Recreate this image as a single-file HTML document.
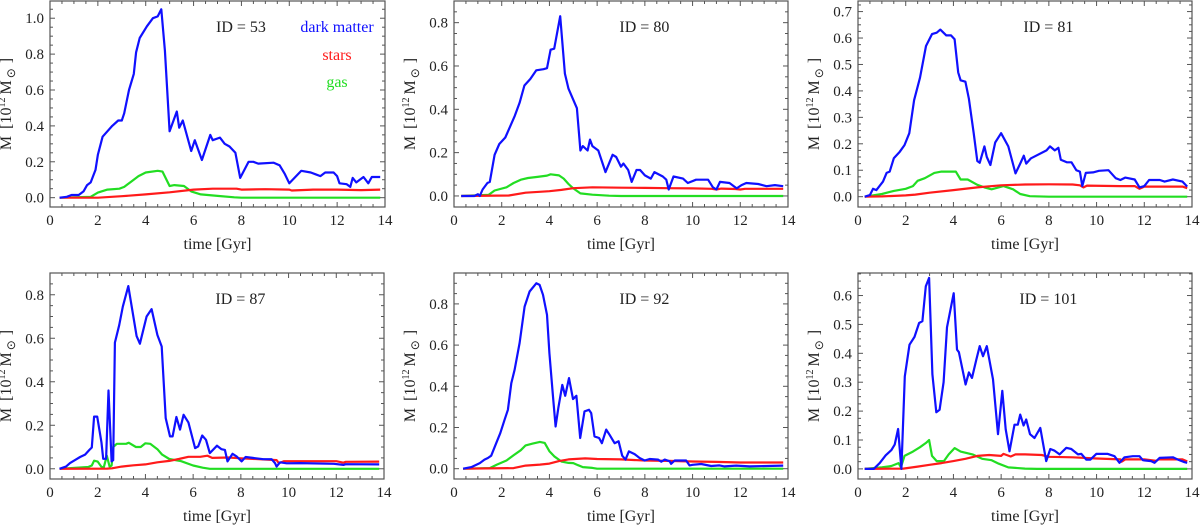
<!DOCTYPE html>
<html><head><meta charset="utf-8"><style>
html,body{margin:0;padding:0;background:#fff}
svg{display:block}
svg text{font-family:"Liberation Serif","Times New Roman",serif}
</style></head><body>
<svg id="fig" width="1200" height="526" viewBox="0 0 1200 526" xmlns="http://www.w3.org/2000/svg" font-family="Liberation Serif, serif"></svg>
<script>
// ---- data (time in Gyr, mass in 1e12 Msun) ----
const panelIds = ["53","80","81","87","92","101"];
const dm53 = [[0.4,0],[0.7,0.005],[0.9,0.015],[1.2,0.015],[1.4,0.035],[1.55,0.07],[1.7,0.085],[1.9,0.155],[2.0,0.24],[2.2,0.34],[2.6,0.4],[2.85,0.43],[3.0,0.43],[3.1,0.47],[3.3,0.6],[3.5,0.69],[3.6,0.81],[3.75,0.89],[4.05,0.955],[4.3,1.0],[4.5,1.01],[4.65,1.05],[4.8,0.82],[5.0,0.37],[5.3,0.48],[5.4,0.39],[5.55,0.43],[5.9,0.26],[6.05,0.32],[6.35,0.21],[6.7,0.35],[6.8,0.32],[7.1,0.335],[7.3,0.3],[7.5,0.285],[7.75,0.25],[7.95,0.11],[8.3,0.2],[8.5,0.2],[8.7,0.19],[9.35,0.195],[9.6,0.18],[9.8,0.135],[10.0,0.08],[10.5,0.15],[10.9,0.14],[11.1,0.13],[11.3,0.12],[11.5,0.14],[11.85,0.14],[12.0,0.12],[12.1,0.08],[12.4,0.075],[12.55,0.06],[12.65,0.11],[12.8,0.085],[13.1,0.115],[13.3,0.08],[13.45,0.115],[13.8,0.115]];
const st53 = [[0.4,0],[2,0],[3,0.008],[4,0.018],[5,0.03],[6,0.045],[6.8,0.05],[7.8,0.05],[8,0.045],[9,0.047],[10,0.045],[10.1,0.04],[11,0.045],[12,0.045],[13,0.042],[13.8,0.045]];
const gas53 = [[0.4,0],[1.7,0.005],[2,0.028],[2.4,0.045],[2.9,0.05],[3.1,0.06],[3.4,0.09],[3.7,0.12],[4.0,0.14],[4.5,0.15],[4.7,0.145],[5.0,0.065],[5.2,0.07],[5.6,0.065],[5.9,0.035],[6.3,0.018],[7,0.01],[7.7,0.002],[8,0],[13.8,0]];
const dm80 = [[0.3,0],[0.85,0],[1.0,0.008],[1.08,0],[1.2,0.03],[1.4,0.06],[1.5,0.065],[1.7,0.19],[1.9,0.24],[2.15,0.27],[2.35,0.32],[2.55,0.37],[2.75,0.43],[2.95,0.51],[3.2,0.54],[3.45,0.58],[3.75,0.585],[3.9,0.59],[4.05,0.675],[4.2,0.68],[4.45,0.83],[4.65,0.565],[4.8,0.495],[5.15,0.405],[5.3,0.21],[5.4,0.23],[5.6,0.21],[5.7,0.26],[5.8,0.23],[6.05,0.21],[6.35,0.11],[6.65,0.19],[6.8,0.18],[7.0,0.135],[7.1,0.15],[7.3,0.12],[7.45,0.065],[7.65,0.12],[7.8,0.12],[8.0,0.095],[8.25,0.08],[8.4,0.11],[8.75,0.09],[8.9,0.075],[9.0,0.03],[9.2,0.09],[9.6,0.08],[9.8,0.06],[10.15,0.075],[10.65,0.075],[10.85,0.04],[11.0,0.03],[11.15,0.065],[11.55,0.06],[11.85,0.035],[12.05,0.05],[12.25,0.06],[12.75,0.055],[13.1,0.045],[13.45,0.05],[13.8,0.045]];
const st80 = [[0.3,0],[2.3,0.002],[3,0.015],[4,0.022],[4.5,0.028],[5,0.036],[5.8,0.04],[7,0.038],[8,0.037],[9,0.036],[10,0.035],[10.8,0.033],[11,0.03],[11.2,0.034],[11.8,0.032],[12,0.03],[12.2,0.033],[13.8,0.033]];
const gas80 = [[0.3,0],[1.45,0.005],[1.7,0.025],[2.2,0.04],[2.5,0.06],[2.8,0.075],[3.1,0.083],[3.5,0.088],[3.9,0.094],[4.05,0.1],[4.4,0.095],[4.6,0.08],[4.8,0.055],[5.0,0.035],[5.3,0.012],[5.8,0.006],[6.5,0.001],[7,0],[13.8,0]];
const dm81 = [[0.28,0],[0.5,0.006],[0.63,0.03],[0.77,0.025],[1.05,0.057],[1.2,0.09],[1.33,0.095],[1.5,0.145],[1.75,0.17],[1.95,0.195],[2.15,0.24],[2.35,0.365],[2.6,0.45],[2.85,0.57],[3.1,0.615],[3.3,0.62],[3.45,0.632],[3.7,0.61],[3.9,0.61],[4.05,0.595],[4.2,0.47],[4.3,0.44],[4.5,0.435],[4.65,0.37],[4.85,0.24],[5.0,0.135],[5.1,0.128],[5.3,0.19],[5.4,0.15],[5.55,0.12],[5.75,0.205],[6.0,0.24],[6.3,0.19],[6.6,0.088],[6.8,0.125],[6.95,0.155],[7.05,0.125],[7.25,0.145],[7.9,0.175],[8.05,0.19],[8.25,0.175],[8.4,0.185],[8.5,0.14],[8.75,0.13],[8.95,0.13],[9.15,0.1],[9.3,0.095],[9.4,0.04],[9.55,0.09],[9.85,0.092],[10.1,0.098],[10.5,0.1],[10.8,0.07],[11.0,0.063],[11.2,0.072],[11.6,0.065],[11.8,0.035],[12.0,0.04],[12.2,0.063],[12.65,0.063],[12.85,0.057],[13.2,0.065],[13.6,0.057],[13.8,0.038]];
const st81 = [[0.28,0],[1,0.001],[2,0.005],[2.4,0.008],[3,0.015],[4,0.025],[5,0.035],[6,0.043],[7,0.046],[8,0.047],[9,0.046],[9.3,0.043],[9.45,0.035],[9.6,0.042],[11,0.04],[11.6,0.04],[11.8,0.03],[12,0.038],[13.6,0.038],[13.8,0.032]];
const gas81 = [[0.28,0],[1,0.01],[1.5,0.022],[2,0.03],[2.3,0.04],[2.5,0.06],[2.8,0.07],[3.2,0.09],[3.5,0.095],[3.9,0.095],[4.1,0.095],[4.3,0.065],[4.6,0.065],[5,0.045],[5.3,0.035],[5.6,0.028],[6.1,0.04],[6.5,0.028],[6.8,0.01],[7.2,0.002],[8,0],[13.8,0]];
const dm87 = [[0.4,0],[0.67,0.01],[0.84,0.026],[1.05,0.04],[1.26,0.054],[1.47,0.065],[1.65,0.087],[1.75,0.098],[1.85,0.24],[1.98,0.24],[2.16,0.12],[2.23,0.046],[2.35,0.046],[2.45,0.36],[2.58,0.034],[2.65,0.04],[2.72,0.58],[2.9,0.66],[3.05,0.745],[3.28,0.84],[3.63,0.61],[3.77,0.575],[4.05,0.7],[4.26,0.734],[4.5,0.615],[4.68,0.562],[4.85,0.233],[5.03,0.149],[5.14,0.149],[5.3,0.238],[5.45,0.18],[5.6,0.248],[5.8,0.213],[6.08,0.095],[6.21,0.103],[6.38,0.153],[6.54,0.133],[6.7,0.072],[7.0,0.106],[7.19,0.09],[7.33,0.087],[7.44,0.034],[7.65,0.069],[7.82,0.057],[8.03,0.034],[8.2,0.054],[8.5,0.05],[8.94,0.044],[9.29,0.044],[9.43,0.026],[9.5,0.01],[9.64,0.03],[9.92,0.025],[10.5,0.026],[11.9,0.023],[12.3,0.018],[12.4,0.021],[13.8,0.02]];
const st87 = [[0.4,0],[2.4,0.001],[2.6,0.002],[3,0.01],[3.5,0.016],[4,0.02],[4.5,0.03],[5,0.036],[5.4,0.045],[5.8,0.055],[6.3,0.055],[6.6,0.06],[6.8,0.05],[7.5,0.052],[8,0.048],[9.5,0.04],[9.6,0.025],[9.8,0.035],[12,0.035],[12.3,0.028],[12.4,0.032],[13.8,0.033]];
const gas87 = [[0.4,0],[1.6,0.008],[1.75,0.015],[1.85,0.037],[2.0,0.033],[2.15,0.01],[2.25,0.005],[2.38,0.06],[2.5,0.01],[2.58,0.015],[2.65,0.1],[2.8,0.115],[3.2,0.115],[3.3,0.12],[3.6,0.1],[3.8,0.1],[4.0,0.117],[4.2,0.115],[4.5,0.09],[4.7,0.065],[5.0,0.045],[5.5,0.035],[6,0.015],[6.4,0.005],[6.7,0],[13.8,0]];
const dm92 = [[0.38,0],[0.73,0.008],[1.08,0.027],[1.28,0.044],[1.42,0.052],[1.56,0.063],[1.77,0.124],[1.94,0.173],[2.12,0.238],[2.26,0.286],[2.4,0.415],[2.54,0.48],[2.75,0.61],[2.96,0.787],[3.17,0.86],[3.45,0.9],[3.59,0.892],[3.73,0.844],[3.9,0.747],[4.0,0.561],[4.15,0.35],[4.26,0.205],[4.37,0.294],[4.54,0.407],[4.66,0.354],[4.82,0.44],[4.99,0.338],[5.13,0.354],[5.29,0.149],[5.47,0.278],[5.66,0.286],[5.75,0.27],[5.89,0.157],[6.08,0.149],[6.2,0.124],[6.38,0.19],[6.52,0.165],[6.73,0.124],[6.9,0.133],[7.05,0.063],[7.19,0.044],[7.33,0.084],[7.57,0.071],[7.78,0.052],[7.99,0.04],[8.2,0.047],[8.55,0.044],[8.69,0.034],[8.83,0.044],[9.04,0.036],[9.1,0.024],[9.25,0.04],[9.73,0.04],[9.87,0.016],[10.0,0.019],[10.36,0.023],[10.78,0.013],[11.13,0.016],[11.34,0.011],[11.83,0.015],[12.39,0.011],[13.8,0.015]];
const st92 = [[0.38,0],[2.5,0.003],[3,0.015],[3.6,0.02],[4,0.025],[4.4,0.037],[4.8,0.045],[5.5,0.05],[6,0.047],[7,0.045],[8,0.04],[9,0.038],[10,0.035],[11,0.033],[12,0.03],[13.8,0.03]];
const gas92 = [[0.38,0],[1.5,0.003],[1.8,0.02],[2.2,0.04],[2.5,0.065],[2.8,0.09],[3.0,0.113],[3.3,0.122],[3.6,0.13],[3.8,0.125],[4.0,0.085],[4.2,0.06],[4.5,0.035],[4.8,0.028],[5.0,0.027],[5.2,0.017],[5.4,0.008],[5.8,0.004],[6,0],[13.8,0]];
const dm101 = [[0.28,0],[0.66,0],[0.91,0.02],[1.16,0.047],[1.4,0.065],[1.54,0.084],[1.68,0.138],[1.82,0],[1.96,0.32],[2.16,0.43],[2.37,0.457],[2.56,0.505],[2.7,0.511],[2.84,0.632],[2.98,0.661],[3.12,0.327],[3.28,0.196],[3.42,0.205],[3.59,0.3],[3.73,0.49],[4.01,0.608],[4.15,0.413],[4.23,0.404],[4.51,0.292],[4.65,0.334],[4.78,0.315],[4.96,0.378],[5.1,0.425],[5.24,0.39],[5.4,0.425],[5.66,0.31],[5.87,0.12],[6.05,0.27],[6.19,0.137],[6.35,0.061],[6.56,0.153],[6.7,0.153],[6.8,0.188],[6.94,0.15],[7.05,0.171],[7.21,0.12],[7.4,0.107],[7.64,0.142],[7.89,0.027],[8.06,0.069],[8.24,0.063],[8.45,0.05],[8.73,0.073],[8.94,0.069],[9.22,0.05],[9.36,0.052],[9.57,0.032],[9.74,0.032],[9.99,0.052],[10.47,0.052],[10.75,0.044],[10.96,0.021],[11.17,0.04],[11.52,0.044],[11.8,0.044],[11.94,0.03],[12.29,0.027],[12.43,0.021],[12.64,0.038],[13.2,0.04],[13.41,0.032],[13.69,0.023],[13.8,0.021]];
const st101 = [[0.28,0],[1.9,0.001],[2.5,0.008],[3,0.014],[3.5,0.02],[4,0.027],[4.5,0.035],[5,0.045],[5.5,0.048],[6,0.045],[6.1,0.052],[6.4,0.043],[6.6,0.05],[7,0.05],[7.7,0.048],[8,0.042],[9,0.04],[10,0.036],[11,0.033],[11.05,0.025],[11.2,0.033],[12,0.033],[12.5,0.028],[12.6,0.033],[13.6,0.033],[13.8,0.026]];
const gas101 = [[0.28,0],[1,0.005],[1.4,0.01],[1.7,0.02],[1.8,0.005],[1.95,0.045],[2.3,0.06],[2.6,0.075],[2.85,0.09],[2.98,0.1],[3.1,0.045],[3.3,0.027],[3.6,0.027],[3.8,0.05],[4.05,0.072],[4.3,0.06],[4.8,0.05],[5.2,0.035],[5.6,0.03],[5.9,0.018],[6.3,0.005],[7,0.001],[7.5,0],[13.8,0]];
const xTicks = [0,2,4,6,8,10,12,14];
const yTicks53 = [0,0.2,0.4,0.6,0.8,1.0];
const yTicks80 = [0,0.2,0.4,0.6,0.8];
const yTicks81 = [0,0.1,0.2,0.3,0.4,0.5,0.6,0.7];
const yTicks87 = [0,0.2,0.4,0.6,0.8];
const yTicks92 = [0,0.2,0.4,0.6,0.8];
const yTicks101 = [0,0.1,0.2,0.3,0.4,0.5,0.6];
const yDomains = [[-0.052,1.096],[-0.051,0.9],[-0.039,0.74],[-0.047,0.9],[-0.05,0.95],[-0.035,0.678]];

const NS="http://www.w3.org/2000/svg";
const FONT='"Liberation Serif", serif';
const svg=document.getElementById('fig');
function mk(tag,attrs,parent){const e=document.createElementNS(NS,tag);for(const k in attrs)e.setAttribute(k,attrs[k]);if(tag==='text')e.setAttribute('font-family',FONT);(parent||svg).appendChild(e);return e;}

const boxes=[{l:50,r:385,t:1,b:207},{l:454,r:788,t:1,b:207},{l:858,r:1192,t:1,b:207},
             {l:50,r:384,t:273,b:479},{l:454,r:788,t:273,b:479},{l:858,r:1192,t:273,b:479}];
const series=[[dm53,st53,gas53],[dm80,st80,gas80],[dm81,st81,gas81],[dm87,st87,gas87],[dm92,st92,gas92],[dm101,st101,gas101]];
const yTickSets=[yTicks53,yTicks80,yTicks81,yTicks87,yTicks92,yTicks101];
const colors=["#1010ff","#ff1a1a","#22dd22"];
const sNames=["dark-matter-line","stars-line","gas-line"];

boxes.forEach((B,i)=>{
  const g=mk('g',{});
  
  
  const [y0,y1]=yDomains[i];
  const X=v=>B.l+(v-0)/14*(B.r-B.l);
  const Y=v=>B.b-(v-y0)/(y1-y0)*(B.b-B.t);
  const clipId='clip'+i;
  const cp=mk('clipPath',{id:clipId},g);mk('rect',{x:B.l,y:B.t,width:B.r-B.l,height:B.b-B.t},cp);
  [2,1,0].forEach(k=>{
    const d=series[i][k].map((p,j)=>(j?'L':'M')+X(p[0]).toFixed(1)+','+Y(p[1]).toFixed(1)).join('');
    const p=mk('path',{d:d,fill:'none',stroke:colors[k],'stroke-width':2.2,'stroke-linejoin':'round','clip-path':'url(#'+clipId+')'},g);
    
    
  });
  const fr=mk('rect',{x:B.l,y:B.t,width:B.r-B.l,height:B.b-B.t,fill:'none',stroke:'#555','stroke-width':1.2},g);
  
  
  for(let v=0;v<=14.001;v+=0.5){
    const x=X(v);const major=Math.abs(v-Math.round(v/2)*2)<1e-6;const L=major?5:3;
    mk('line',{x1:x,y1:B.b,x2:x,y2:B.b-L,stroke:'#555'},g);
    mk('line',{x1:x,y1:B.t,x2:x,y2:B.t+L,stroke:'#555'},g);
  }
  xTicks.forEach(v=>{
    const t=mk('text',{x:X(v),y:B.b+18,'text-anchor':'middle','font-size':15,fill:'#222'},g);t.textContent=String(v);
    
    
  });
  const yt=yTickSets[i];const step=yt[1]-yt[0];
  for(let v=0;v<=y1+1e-9;v+=step/4){
    const y=Y(v);const major=Math.abs(v/step-Math.round(v/step))<1e-6;const L=major?5:3;
    mk('line',{x1:B.l,y1:y,x2:B.l+L,y2:y,stroke:'#555'},g);
    mk('line',{x1:B.r,y1:y,x2:B.r-L,y2:y,stroke:'#555'},g);
  }
  yt.forEach(v=>{
    const t=mk('text',{x:B.l-6,y:Y(v)+5,'text-anchor':'end','font-size':15,fill:'#222'},g);t.textContent=v.toFixed(1);
    
    
  });
  const xt=mk('text',{x:(B.l+B.r)/2,y:B.b+42,'text-anchor':'middle','font-size':16,fill:'#222'},g);xt.textContent='time [Gyr]';
  
  
  const cy=(B.t+B.b)/2, cx=B.l-39;
  const ya=mk('text',{x:cx,y:cy,'text-anchor':'middle','font-size':16,fill:'#222',transform:'rotate(-90 '+cx+' '+cy+')'},g);
  
  
  ya.innerHTML='M<tspan dx="7">[10</tspan><tspan font-size="10" dy="-6">12</tspan><tspan dy="6" dx="3">M</tspan><tspan font-size="12" dy="4" dx="2">⊙</tspan><tspan dy="-4" dx="5">]</tspan>';
  const id=mk('text',{x:B.l+0.57*(B.r-B.l),y:B.t+31,'text-anchor':'middle','font-size':16,fill:'#222'},g);id.textContent='ID = '+panelIds[i];
  
  
});
[["dark matter",colors[0],32],["stars",colors[1],60],["gas",colors[2],87]].forEach(([txt,c,y])=>{
  const t=mk('text',{x:337,y:y,'text-anchor':'middle','font-size':16,fill:c});t.textContent=txt;
  
  
});
</script>
</body></html>
